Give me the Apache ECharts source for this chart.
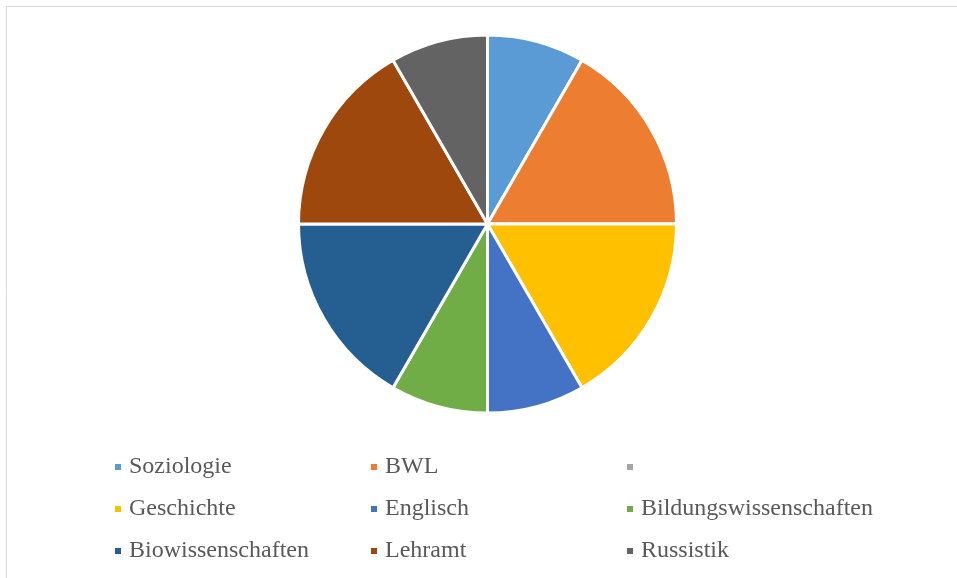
<!DOCTYPE html>
<html>
<head>
<meta charset="utf-8">
<script src="https://cdn.jsdelivr.net/npm/echarts@6/dist/echarts.min.js"></script>
<style>
  html, body { margin: 0; padding: 0; background: #ffffff; }
  #chart { width: 957px; height: 578px; }
</style>
</head>
<body>
<div id="chart"></div>
<script>
// Subjects in drawing order (clockwise from 12 o'clock)
const categories = ['Soziologie', 'BWL', ' ', 'Geschichte', 'Englisch', 'Bildungswissenschaften', 'Biowissenschaften', 'Lehramt', 'Russistik'];
const values = [1, 2, 0, 2, 1, 1, 2, 2, 1];
const colors = ['#5b9bd5', '#ed7d31', '#a5a5a5', '#ffc000', '#4472c4', '#70ad47', '#255e91', '#9e480e', '#636363'];

// Legend columns (three columns, row-major order across)
const legendCol1 = ['Soziologie', 'Geschichte', 'Biowissenschaften'];
const legendCol2 = ['BWL', 'Englisch', 'Lehramt'];
const legendCol3 = [' ', 'Bildungswissenschaften', 'Russistik'];

const fontFamily = 'Liberation Serif';

function legendColumn(names, left) {
  return {
    data: names,
    orient: 'vertical',
    left: left,
    top: 450,
    padding: 5,
    icon: 'rect',
    itemWidth: 8,
    itemHeight: 8,
    itemGap: 18,
    selectedMode: false,
    textStyle: {
      fontFamily: fontFamily,
      fontSize: 24,
      lineHeight: 24,
      color: '#595959',
      padding: [0, 0, 0, 2]
    }
  };
}

const chart = echarts.init(document.getElementById('chart'), null, { renderer: 'canvas' });
chart.setOption({
  animation: false,
  backgroundColor: '#ffffff',
  color: colors,
  graphic: [{
    type: 'rect',
    shape: { x: 6.5, y: 6.5, width: 970, height: 590 },
    style: { fill: 'none', stroke: '#d9d9d9', lineWidth: 1 },
    silent: true
  }],
  legend: [
    legendColumn(legendCol1, 108),
    legendColumn(legendCol2, 364),
    legendColumn(legendCol3, 620)
  ],
  series: [{
    type: 'pie',
    center: [487.5, 224],
    radius: 189,
    startAngle: 90,
    clockwise: true,
    label: { show: false },
    labelLine: { show: false },
    emphasis: { disabled: true },
    itemStyle: { borderColor: '#ffffff', borderWidth: 3 },
    data: categories.map((name, i) => ({ name: name, value: values[i] }))
  }]
});
</script>
</body>
</html>
